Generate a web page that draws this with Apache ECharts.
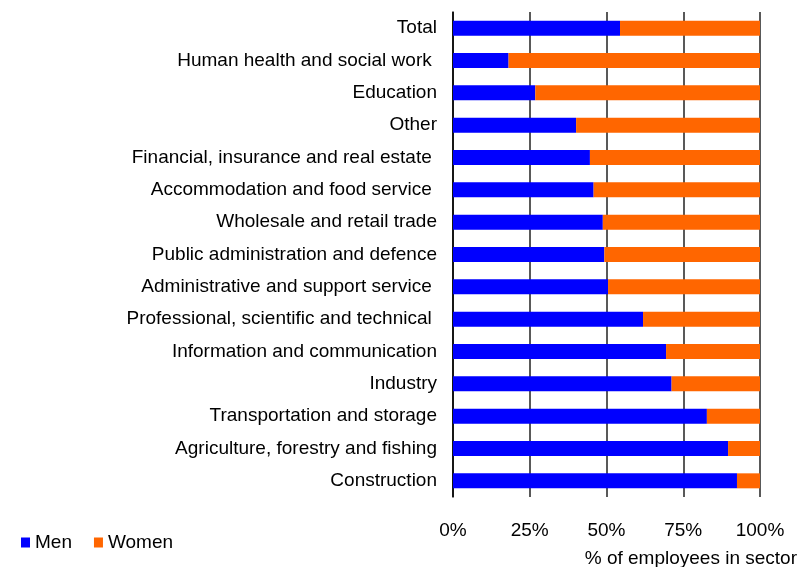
<!DOCTYPE html>
<html>
<head>
<meta charset="utf-8">
<script src="https://cdn.jsdelivr.net/npm/echarts@6/dist/echarts.min.js"></script>
<style>
  html, body { margin: 0; padding: 0; background: #fff; }
  #chart { width: 802px; height: 567px; }
</style>
</head>
<body>
<div id="chart"></div>
<script>
// sectors, top to bottom (trailing spaces as in the source labels)
var sectors = [
  'Total',
  'Human health and social work ',
  'Education',
  'Other',
  'Financial, insurance and real estate ',
  'Accommodation and food service ',
  'Wholesale and retail trade',
  'Public administration and defence',
  'Administrative and support service ',
  'Professional, scientific and technical ',
  'Information and communication',
  'Industry',
  'Transportation and storage',
  'Agriculture, forestry and fishing',
  'Construction'
];
// share of men, % of employees in sector
var men = [54.4, 18.1, 26.8, 40.1, 44.6, 45.8, 48.8, 49.3, 50.5, 61.9, 69.4, 71.2, 82.7, 89.6, 92.5];
var women = men.map(function (v) { return +(100 - v).toFixed(1); });
var xTicks = [0, 25, 50, 75, 100];

var font = 'Liberation Sans, Arial, sans-serif';
var chart = echarts.init(document.getElementById('chart'));

chart.setOption({
  backgroundColor: '#fff',
  animation: false,
  title: {
    text: '% of employees in sector',
    right: 0,
    bottom: -6,
    textStyle: { fontFamily: font, fontSize: 19, fontWeight: 'normal', color: '#000' }
  },
  legend: {
    left: 16,
    top: 528,
    icon: 'rect',
    itemWidth: 9,
    itemHeight: 10,
    itemGap: 22,
    textStyle: { fontFamily: font, fontSize: 19, color: '#000' },
    data: ['Men', 'Women']
  },
  grid: { left: 453, right: 42, top: 12, bottom: 70, containLabel: false },
  xAxis: {
    type: 'value',
    min: xTicks[0],
    max: xTicks[xTicks.length - 1],
    interval: 25,
    axisLine: { show: false },
    axisTick: { show: false },
    axisLabel: { formatter: '{value}%', fontFamily: font, fontSize: 19, color: '#000', margin: 24 },
    splitLine: { show: true, lineStyle: { color: '#222', width: 1.5 } }
  },
  yAxis: {
    type: 'category',
    inverse: true,
    data: sectors,
    axisLine: { show: true, lineStyle: { color: '#000', width: 1.5 } },
    axisTick: { show: false },
    axisLabel: { fontFamily: font, fontSize: 19, color: '#000', margin: 16 }
  },
  series: [
    {
      name: 'Men',
      type: 'bar',
      stack: 'all',
      barWidth: 15,
      itemStyle: { color: '#0000ff' },
      data: men
    },
    {
      name: 'Women',
      type: 'bar',
      stack: 'all',
      barWidth: 15,
      itemStyle: { color: '#ff6600' },
      data: women
    }
  ]
});
</script>
</body>
</html>
